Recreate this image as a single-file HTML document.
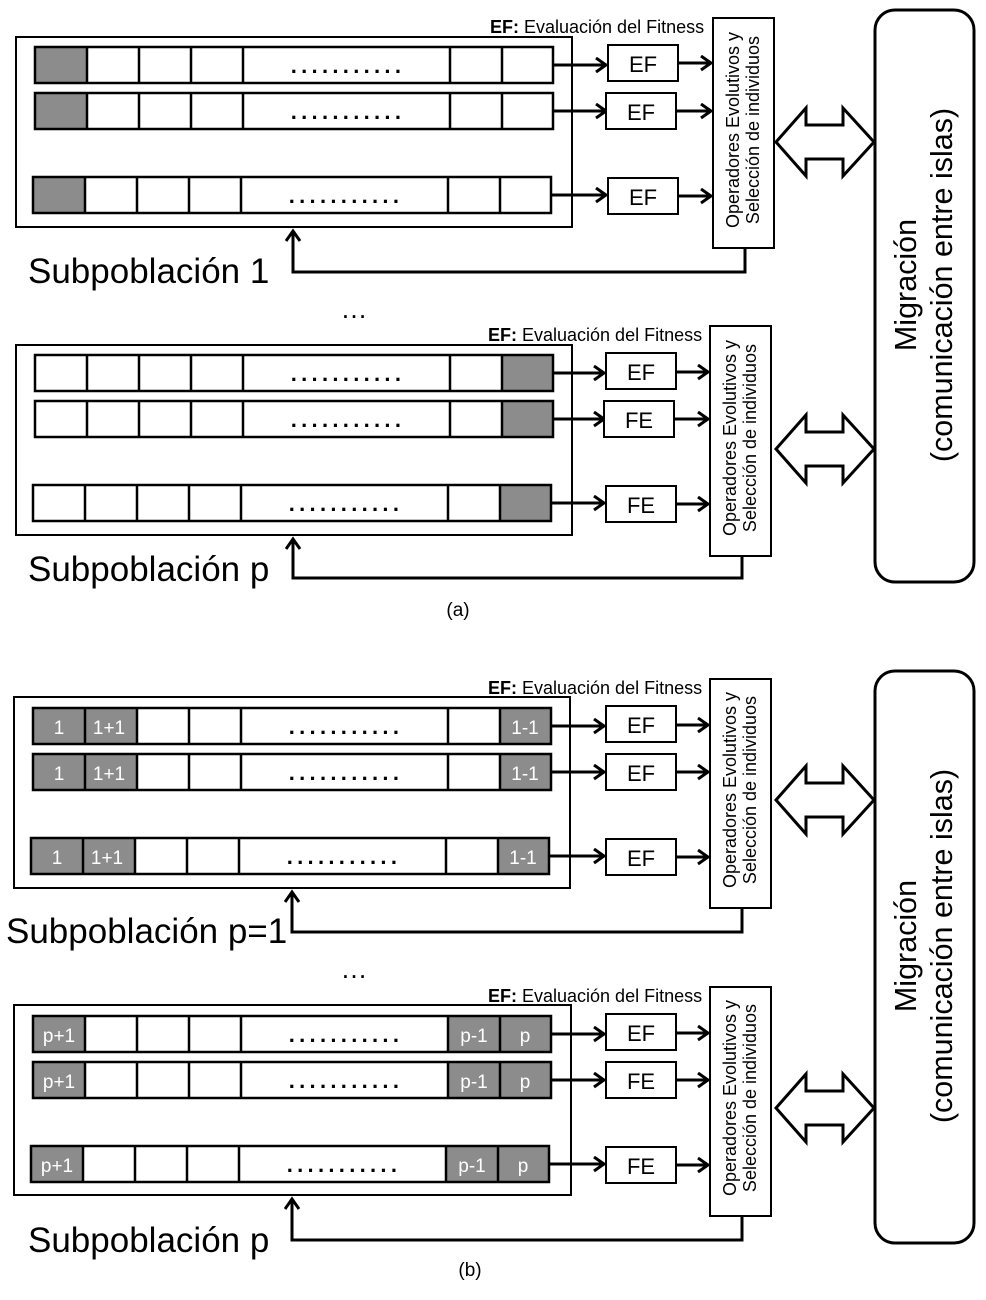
<!DOCTYPE html>
<html><head><meta charset="utf-8"><style>
html,body{margin:0;padding:0;background:#fff;}
svg{display:block;}
text{font-family:"Liberation Sans",Arial,sans-serif;fill:#000;}
.gt{fill:#fff;font-size:19px;text-anchor:middle;}
.dots{font-size:22px;font-weight:bold;text-anchor:middle;letter-spacing:4.3px;}
.ef{font-size:22px;text-anchor:middle;}
.ops{font-size:18px;text-anchor:middle;}
.sub{font-size:35px;}
.mig{font-size:30.5px;text-anchor:middle;}
.lab{font-size:18px;}
</style></head><body>
<svg width="986" height="1300" viewBox="0 0 986 1300" xmlns="http://www.w3.org/2000/svg">
<defs>
<marker id="ah" markerUnits="userSpaceOnUse" markerWidth="18" markerHeight="18" refX="12" refY="8" orient="auto">
<path d="M2,1 L12,8 L2,15" fill="none" stroke="#000" stroke-width="3"/>
</marker>
<symbol id="row" overflow="visible">
<rect x="0" y="0" width="518" height="36" fill="none" stroke="#000" stroke-width="2.5"/>
<path d="M52 0V36M104 0V36M156 0V36M208 0V36M415 0V36M467 0V36" stroke="#000" stroke-width="2.5"/>
</symbol>
</defs>
<rect width="986" height="1300" fill="#fff"/>

<!-- ============ PANEL A, BLOCK 1 ============ -->
<text x="490" y="33" class="lab"><tspan font-weight="bold">EF:</tspan> Evaluación del Fitness</text>
<rect x="16" y="37" width="556" height="190" fill="#fff" stroke="#000" stroke-width="2"/>
<g transform="translate(35,47)"><rect x="0" y="0" width="52" height="36" fill="#8c8c8c"/><use href="#row"/><text x="313" y="26" class="dots">...........</text></g>
<g transform="translate(35,93)"><rect x="0" y="0" width="52" height="36" fill="#8c8c8c"/><use href="#row"/><text x="313" y="26" class="dots">...........</text></g>
<g transform="translate(33,177)"><rect x="0" y="0" width="52" height="36" fill="#8c8c8c"/><use href="#row"/><text x="313" y="26" class="dots">...........</text></g>
<g stroke="#000" stroke-width="3" fill="none">
<line x1="553" y1="65" x2="606" y2="65" marker-end="url(#ah)"/>
<line x1="553" y1="111" x2="606" y2="111" marker-end="url(#ah)"/>
<line x1="551" y1="195" x2="606" y2="195" marker-end="url(#ah)"/>
<line x1="678" y1="63" x2="711" y2="63" marker-end="url(#ah)"/>
<line x1="676" y1="111" x2="711" y2="111" marker-end="url(#ah)"/>
<line x1="678" y1="196" x2="711" y2="196" marker-end="url(#ah)"/>
<path d="M745 248 V272 H293 V231" marker-end="url(#ah)"/>
</g>
<g stroke="#000" stroke-width="2" fill="#fff">
<rect x="608" y="45" width="70" height="36"/>
<rect x="606" y="93" width="70" height="36"/>
<rect x="608" y="178" width="70" height="36"/>
<rect x="713" y="18" width="61" height="230"/>
</g>
<text x="643" y="72" class="ef">EF</text>
<text x="641" y="120" class="ef">EF</text>
<text x="643" y="205" class="ef">EF</text>
<g transform="translate(743,130) rotate(-90)"><text x="0" y="-4" class="ops">Operadores Evolutivos y</text><text x="0" y="16" class="ops">Selección de individuos</text></g>
<text x="28" y="283" class="sub">Subpoblación 1</text>
<text x="354" y="318" class="ef" style="font-size:27px">…</text>

<!-- ============ PANEL A, BLOCK 2 ============ -->
<text x="488" y="341" class="lab"><tspan font-weight="bold">EF:</tspan> Evaluación del Fitness</text>
<rect x="16" y="345" width="556" height="190" fill="#fff" stroke="#000" stroke-width="2"/>
<g transform="translate(35,355)"><rect x="467" y="0" width="51" height="36" fill="#8c8c8c"/><use href="#row"/><text x="313" y="26" class="dots">...........</text></g>
<g transform="translate(35,401)"><rect x="467" y="0" width="51" height="36" fill="#8c8c8c"/><use href="#row"/><text x="313" y="26" class="dots">...........</text></g>
<g transform="translate(33,485)"><rect x="467" y="0" width="51" height="36" fill="#8c8c8c"/><use href="#row"/><text x="313" y="26" class="dots">...........</text></g>
<g stroke="#000" stroke-width="3" fill="none">
<line x1="553" y1="373" x2="604" y2="373" marker-end="url(#ah)"/>
<line x1="553" y1="419" x2="604" y2="419" marker-end="url(#ah)"/>
<line x1="551" y1="503" x2="604" y2="503" marker-end="url(#ah)"/>
<line x1="676" y1="372" x2="708" y2="372" marker-end="url(#ah)"/>
<line x1="674" y1="419" x2="708" y2="419" marker-end="url(#ah)"/>
<line x1="676" y1="504" x2="708" y2="504" marker-end="url(#ah)"/>
<path d="M742 556 V578 H293 V539" marker-end="url(#ah)"/>
</g>
<g stroke="#000" stroke-width="2" fill="#fff">
<rect x="606" y="353" width="70" height="36"/>
<rect x="604" y="401" width="70" height="36"/>
<rect x="606" y="486" width="70" height="36"/>
<rect x="710" y="326" width="61" height="230"/>
</g>
<text x="641" y="380" class="ef">EF</text>
<text x="639" y="428" class="ef">FE</text>
<text x="641" y="513" class="ef">FE</text>
<g transform="translate(740,438) rotate(-90)"><text x="0" y="-4" class="ops">Operadores Evolutivos y</text><text x="0" y="16" class="ops">Selección de individuos</text></g>
<text x="28" y="581" class="sub">Subpoblación p</text>
<text x="458" y="616" class="ef" style="font-size:19px">(a)</text>

<g stroke="#000" stroke-width="3" fill="#fff" stroke-linejoin="miter">
<path d="M776 142 L806 108 V125 H843 V108 L874 142 L843 176 V159 H806 V176 Z"/>
<path d="M776 449 L806 415 V432 H843 V415 L874 449 L843 483 V466 H806 V483 Z"/>
<rect x="875" y="10" width="99" height="572" rx="20" ry="20"/>
</g>
<g transform="translate(922,285) rotate(-90)"><text x="0" y="-6" class="mig">Migración</text><text x="0" y="30" class="mig">(comunicación entre islas)</text></g>

<!-- ============ PANEL B, BLOCK 1 ============ -->
<text x="488" y="694" class="lab"><tspan font-weight="bold">EF:</tspan> Evaluación del Fitness</text>
<rect x="14" y="697" width="556" height="191" fill="#fff" stroke="#000" stroke-width="2"/>
<g transform="translate(33,708)"><rect x="0" y="0" width="104" height="36" fill="#8c8c8c"/><rect x="467" y="0" width="51" height="36" fill="#8c8c8c"/><use href="#row"/><text x="26" y="26" class="gt">1</text><text x="76" y="26" class="gt">1+1</text><text x="492" y="26" class="gt">1-1</text><text x="313" y="26" class="dots">...........</text></g>
<g transform="translate(33,754)"><rect x="0" y="0" width="104" height="36" fill="#8c8c8c"/><rect x="467" y="0" width="51" height="36" fill="#8c8c8c"/><use href="#row"/><text x="26" y="26" class="gt">1</text><text x="76" y="26" class="gt">1+1</text><text x="492" y="26" class="gt">1-1</text><text x="313" y="26" class="dots">...........</text></g>
<g transform="translate(31,838)"><rect x="0" y="0" width="104" height="36" fill="#8c8c8c"/><rect x="467" y="0" width="51" height="36" fill="#8c8c8c"/><use href="#row"/><text x="26" y="26" class="gt">1</text><text x="76" y="26" class="gt">1+1</text><text x="492" y="26" class="gt">1-1</text><text x="313" y="26" class="dots">...........</text></g>
<g stroke="#000" stroke-width="3" fill="none">
<line x1="551" y1="726" x2="604" y2="726" marker-end="url(#ah)"/>
<line x1="551" y1="772" x2="604" y2="772" marker-end="url(#ah)"/>
<line x1="549" y1="856" x2="604" y2="856" marker-end="url(#ah)"/>
<line x1="676" y1="725" x2="708" y2="725" marker-end="url(#ah)"/>
<line x1="676" y1="772" x2="708" y2="772" marker-end="url(#ah)"/>
<line x1="676" y1="857" x2="708" y2="857" marker-end="url(#ah)"/>
<path d="M742 908 V932 H292 V892" marker-end="url(#ah)"/>
</g>
<g stroke="#000" stroke-width="2" fill="#fff">
<rect x="606" y="706" width="70" height="36"/>
<rect x="606" y="754" width="70" height="36"/>
<rect x="606" y="839" width="70" height="36"/>
<rect x="710" y="679" width="61" height="229"/>
</g>
<text x="641" y="733" class="ef">EF</text>
<text x="641" y="781" class="ef">EF</text>
<text x="641" y="866" class="ef">EF</text>
<g transform="translate(740,790) rotate(-90)"><text x="0" y="-4" class="ops">Operadores Evolutivos y</text><text x="0" y="16" class="ops">Selección de individuos</text></g>
<text x="6" y="943" class="sub">Subpoblación p=1</text>
<text x="354" y="978" class="ef" style="font-size:27px">…</text>

<!-- ============ PANEL B, BLOCK 2 ============ -->
<text x="488" y="1002" class="lab"><tspan font-weight="bold">EF:</tspan> Evaluación del Fitness</text>
<rect x="14" y="1005" width="557" height="190" fill="#fff" stroke="#000" stroke-width="2"/>
<g transform="translate(33,1016)"><rect x="0" y="0" width="52" height="36" fill="#8c8c8c"/><rect x="415" y="0" width="103" height="36" fill="#8c8c8c"/><use href="#row"/><text x="26" y="26" class="gt">p+1</text><text x="441" y="26" class="gt">p-1</text><text x="492" y="26" class="gt">p</text><text x="313" y="26" class="dots">...........</text></g>
<g transform="translate(33,1062)"><rect x="0" y="0" width="52" height="36" fill="#8c8c8c"/><rect x="415" y="0" width="103" height="36" fill="#8c8c8c"/><use href="#row"/><text x="26" y="26" class="gt">p+1</text><text x="441" y="26" class="gt">p-1</text><text x="492" y="26" class="gt">p</text><text x="313" y="26" class="dots">...........</text></g>
<g transform="translate(31,1146)"><rect x="0" y="0" width="52" height="36" fill="#8c8c8c"/><rect x="415" y="0" width="103" height="36" fill="#8c8c8c"/><use href="#row"/><text x="26" y="26" class="gt">p+1</text><text x="441" y="26" class="gt">p-1</text><text x="492" y="26" class="gt">p</text><text x="313" y="26" class="dots">...........</text></g>
<g stroke="#000" stroke-width="3" fill="none">
<line x1="551" y1="1034" x2="604" y2="1034" marker-end="url(#ah)"/>
<line x1="551" y1="1080" x2="604" y2="1080" marker-end="url(#ah)"/>
<line x1="549" y1="1164" x2="604" y2="1164" marker-end="url(#ah)"/>
<line x1="676" y1="1033" x2="708" y2="1033" marker-end="url(#ah)"/>
<line x1="676" y1="1080" x2="708" y2="1080" marker-end="url(#ah)"/>
<line x1="676" y1="1165" x2="708" y2="1165" marker-end="url(#ah)"/>
<path d="M742 1216 V1240 H292 V1199" marker-end="url(#ah)"/>
</g>
<g stroke="#000" stroke-width="2" fill="#fff">
<rect x="606" y="1014" width="70" height="36"/>
<rect x="606" y="1062" width="70" height="36"/>
<rect x="606" y="1147" width="70" height="36"/>
<rect x="710" y="987" width="61" height="229"/>
</g>
<text x="641" y="1041" class="ef">EF</text>
<text x="641" y="1089" class="ef">FE</text>
<text x="641" y="1174" class="ef">FE</text>
<g transform="translate(740,1098) rotate(-90)"><text x="0" y="-4" class="ops">Operadores Evolutivos y</text><text x="0" y="16" class="ops">Selección de individuos</text></g>
<text x="28" y="1252" class="sub">Subpoblación p</text>
<text x="470" y="1276" class="ef" style="font-size:19px">(b)</text>

<g stroke="#000" stroke-width="3" fill="#fff">
<path d="M776 800 L806 766 V783 H843 V766 L874 800 L843 834 V817 H806 V834 Z"/>
<path d="M776 1108 L806 1074 V1091 H843 V1074 L874 1108 L843 1142 V1125 H806 V1142 Z"/>
<rect x="875" y="671" width="99" height="572" rx="20" ry="20"/>
</g>
<g transform="translate(922,946) rotate(-90)"><text x="0" y="-6" class="mig">Migración</text><text x="0" y="30" class="mig">(comunicación entre islas)</text></g>
</svg>
</body></html>
